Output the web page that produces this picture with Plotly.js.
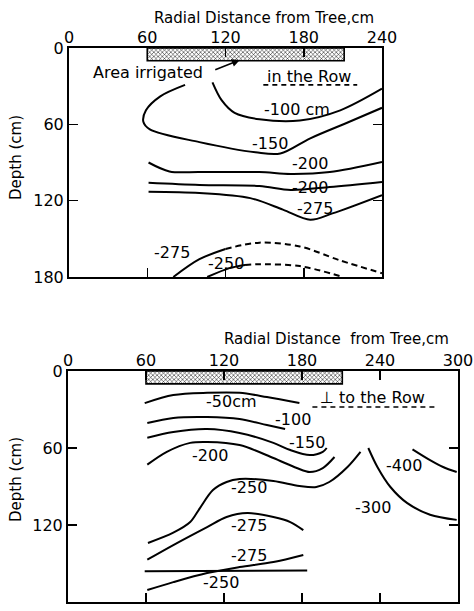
<!DOCTYPE html>
<html>
<head>
<meta charset="utf-8">
<script src="https://cdn.plot.ly/plotly-3.0.1.min.js"></script>
<style>
  html, body { margin: 0; padding: 0; background: #fff; }
  #chart { width: 474px; height: 611px; }
</style>
</head>
<body>
<div id="chart"></div>
<script>
// ---------- axes / ticks ----------
const topTicksX = [0, 60, 120, 180, 240];
const bottomTicksX = [0, 60, 120, 180, 240, 300];
const depthTicks = [0, 60, 120, 180];
const irrigatedX = [60, 211];      // radial extent of irrigated area (cm)
const irrigatedDepth = [0, 10];    // drawn band depth (cm)

// ---------- Panel 1: in the row ----------
const row100X = [110, 117, 127, 146, 177, 208, 240];
const row100D = [27, 41, 51, 56, 57, 49, 32];
const row150X = [89, 70, 59, 57, 62, 100, 143, 162, 185, 215, 240];
const row150D = [29, 38, 49, 58, 64, 74, 82, 83, 71, 58, 47];
const row200aX = [61, 77, 100, 146, 170, 200, 240];
const row200aD = [90, 97, 97.5, 97.5, 99, 97.5, 89.6];
const row200bX = [61, 100, 146, 170, 200, 240];
const row200bD = [106, 107.7, 108.5, 111.6, 109.3, 105.3];
const row275X = [61, 100, 139, 164, 185, 202, 240];
const row275D = [113, 114, 118, 127, 135, 130, 115.6];
const row275lowSolidX = [80, 100, 120];
const row275lowSolidD = [180, 166, 158];
const row275lowDashX = [120, 146, 177, 208, 240];
const row275lowDashD = [158, 153, 156, 167, 177];
const row250lowSolidX = [106, 123, 135];
const row250lowSolidD = [180, 173, 170.5];
const row250lowDashX = [135, 146, 177, 210];
const row250lowDashD = [170.5, 170, 171.4, 180];

const rowLabels = ['-100 cm', '-150', '-200', '-200', '-275', '-275', '-250'];
const rowLabelX = [175, 154, 185, 185, 189, 79, 120];
const rowLabelD = [48.7, 74.7, 90.4, 109.3, 125.8, 161, 169];

// ---------- Panel 2: perpendicular to the row ----------
const perp50X = [59, 81, 107, 132, 153, 178];
const perp50D = [25, 18.7, 17, 17, 20.3, 25];
const perp100X = [61, 81, 107, 132, 153, 167];
const perp100D = [40.5, 36.6, 35.9, 37.4, 42.1, 45.2];
const perp150X = [61, 81, 107, 132, 158, 171, 186, 196, 199];
const perp150D = [52, 47.5, 45.2, 48.3, 56, 61.6, 65.5, 63, 60];
const perp200X = [61, 76, 94, 107, 132, 158, 176, 186, 196, 205];
const perp200D = [73, 63, 56, 55.3, 57.7, 67.8, 75.6, 78.7, 75.6, 67];
const perp250X = [61.5, 81, 94, 101.5, 111.5, 122, 132, 158, 178, 191, 201, 215, 225];
const perp250D = [134, 126, 117.7, 106.8, 92.8, 86.5, 84.2, 85.7, 89.6, 90.4, 86.5, 74.8, 63];
const perp275X = [61, 81, 107, 122, 138, 158, 171, 181];
const perp275D = [147, 135.6, 121.6, 113.8, 110.7, 113.8, 117.7, 124];
const perpRiseX = [61, 81, 107, 132, 158, 181];
const perpRiseD = [170.7, 164.5, 157.4, 152.8, 148.9, 143.4];
const perpFlatX = [59, 184];
const perpFlatD = [156, 155.5];
const perp300X = [231, 238, 248, 261, 278.5, 299];
const perp300D = [60, 74.8, 90.4, 103, 112, 116];
const perp400X = [265, 278.5, 288.5, 299];
const perp400D = [61, 69.4, 74.8, 78.7];

const perpLabels = ['-50cm', '-100', '-150', '-200', '-250', '-275', '-275', '-250', '-400', '-300'];
const perpLabelX = [126, 173, 184, 109, 139, 139, 139, 118, 258.5, 234.6];
const perpLabelD = [24, 38, 56, 65.5, 91, 120, 144, 164.5, 74, 106];

// ---------- helpers ----------
const INK = '#000';
function curve(x, y, xa, ya, dash) {
  return {
    type: 'scatter', mode: 'lines', x: x, y: y, xaxis: xa, yaxis: ya,
    line: { color: INK, width: 2, shape: 'spline', smoothing: 0.9, dash: dash || 'solid' },
    hoverinfo: 'skip', showlegend: false
  };
}
function band(xa, ya) {
  const a = irrigatedX[0], b = irrigatedX[1], d0 = irrigatedDepth[0], d1 = irrigatedDepth[1];
  return {
    type: 'scatter', mode: 'lines', x: [a, b, b, a, a], y: [d0, d0, d1, d1, d0],
    xaxis: xa, yaxis: ya, fill: 'toself', fillcolor: '#fff',
    fillpattern: { shape: 'x', size: 3, solidity: 0.3, fgcolor: INK, bgcolor: '#fff' },
    line: { color: INK, width: 1.6 }, hoverinfo: 'skip', showlegend: false
  };
}

const traces = [
  band('x', 'y'),
  curve(row100X, row100D, 'x', 'y'),
  curve(row150X, row150D, 'x', 'y'),
  curve(row200aX, row200aD, 'x', 'y'),
  curve(row200bX, row200bD, 'x', 'y'),
  curve(row275X, row275D, 'x', 'y'),
  curve(row275lowSolidX, row275lowSolidD, 'x', 'y'),
  curve(row275lowDashX, row275lowDashD, 'x', 'y', '6px,4px'),
  curve(row250lowSolidX, row250lowSolidD, 'x', 'y'),
  curve(row250lowDashX, row250lowDashD, 'x', 'y', '6px,4px'),
  band('x2', 'y2'),
  curve(perp50X, perp50D, 'x2', 'y2'),
  curve(perp100X, perp100D, 'x2', 'y2'),
  curve(perp150X, perp150D, 'x2', 'y2'),
  curve(perp200X, perp200D, 'x2', 'y2'),
  curve(perp250X, perp250D, 'x2', 'y2'),
  curve(perp275X, perp275D, 'x2', 'y2'),
  curve(perpRiseX, perpRiseD, 'x2', 'y2'),
  curve(perpFlatX, perpFlatD, 'x2', 'y2'),
  curve(perp300X, perp300D, 'x2', 'y2'),
  curve(perp400X, perp400D, 'x2', 'y2'),
  // dashed underlines for the panel captions
  { type: 'scatter', mode: 'lines', x: [149, 221], y: [29, 29], xaxis: 'x', yaxis: 'y',
    line: { color: INK, width: 1.6, dash: '5px,4px' }, hoverinfo: 'skip', showlegend: false },
  { type: 'scatter', mode: 'lines', x: [188, 284], y: [28, 28], xaxis: 'x2', yaxis: 'y2',
    line: { color: INK, width: 1.6, dash: '5px,4px' }, hoverinfo: 'skip', showlegend: false }
];

const FONT = 'DejaVu Sans, Verdana, sans-serif';
function labelAnn(text, x, y, xr, yr, size) {
  return { text: text, x: x, y: y, xref: xr, yref: yr, showarrow: false,
           font: { family: FONT, size: size || 16, color: INK }, xanchor: 'center', yanchor: 'middle' };
}

const annotations = [];
rowLabels.forEach((t, i) => annotations.push(labelAnn(t, rowLabelX[i], rowLabelD[i], 'x', 'y')));
perpLabels.forEach((t, i) => annotations.push(labelAnn(t, perpLabelX[i], perpLabelD[i], 'x2', 'y2')));
annotations.push(labelAnn('Area irrigated', 60.5, 19, 'x', 'y'));
annotations.push({ text: '', x: 131, y: 9.4, ax: 111, ay: 17.5, xref: 'x', yref: 'y', axref: 'x', ayref: 'y',
                   showarrow: true, arrowhead: 2, arrowsize: 1, arrowwidth: 1.6, arrowcolor: INK });
annotations.push(labelAnn('in the Row', 184, 22.5, 'x', 'y'));
annotations.push(labelAnn('\u22A5 to the Row', 234, 21, 'x2', 'y2'));
annotations.push(labelAnn('Radial Distance from Tree,cm', 0.557, 1 - 18 / 611, 'paper', 'paper', 15));
annotations.push(labelAnn('Radial Distance  from Tree,cm', 0.71, 1 - 339 / 611, 'paper', 'paper', 15));
annotations.push(Object.assign(labelAnn('Depth (cm)', 16 / 474, 1 - 158 / 611, 'paper', 'paper', 15), { textangle: -90 }));
annotations.push(Object.assign(labelAnn('Depth (cm)', 16 / 474, 1 - 480 / 611, 'paper', 'paper', 15), { textangle: -90 }));

function xAxis(range, ticks, domain, anchor) {
  return {
    domain: domain, range: range, anchor: anchor, side: 'top',
    tickmode: 'array', tickvals: ticks, ticktext: ticks.map(String),
    ticks: 'inside', ticklen: 9, tickwidth: 1.5, tickcolor: INK,
    showline: true, linewidth: 2, linecolor: INK, mirror: 'ticks',
    showgrid: false, zeroline: false, automargin: false, fixedrange: true,
    ticklabelstandoff: -3,
    tickfont: { family: FONT, size: 16, color: INK }
  };
}
function yAxis(domain, anchor) {
  return {
    domain: domain, range: [180, 0], anchor: anchor,
    tickmode: 'array', tickvals: depthTicks, ticktext: depthTicks.map(String),
    ticks: 'inside', ticklen: 9, tickwidth: 1.5, tickcolor: INK,
    showline: true, linewidth: 2, linecolor: INK, mirror: 'ticks',
    showgrid: false, zeroline: false, automargin: false, fixedrange: true,
    tickfont: { family: FONT, size: 16, color: INK }
  };
}

const layout = {
  width: 474, height: 611,
  margin: { l: 0, r: 0, t: 0, b: 0 },
  paper_bgcolor: '#fff', plot_bgcolor: '#fff',
  showlegend: false,
  xaxis: xAxis([0, 240], topTicksX, [69 / 474, 382 / 474], 'y'),
  yaxis: yAxis([1 - 277 / 611, 1 - 48 / 611], 'x'),
  xaxis2: xAxis([0, 300], bottomTicksX, [68 / 474, 458 / 474], 'y2'),
  yaxis2: yAxis([1 - 602 / 611, 1 - 371 / 611], 'x2'),
  annotations: annotations
};

Plotly.newPlot('chart', traces, layout, { staticPlot: true, displayModeBar: false });
</script>
</body>
</html>
